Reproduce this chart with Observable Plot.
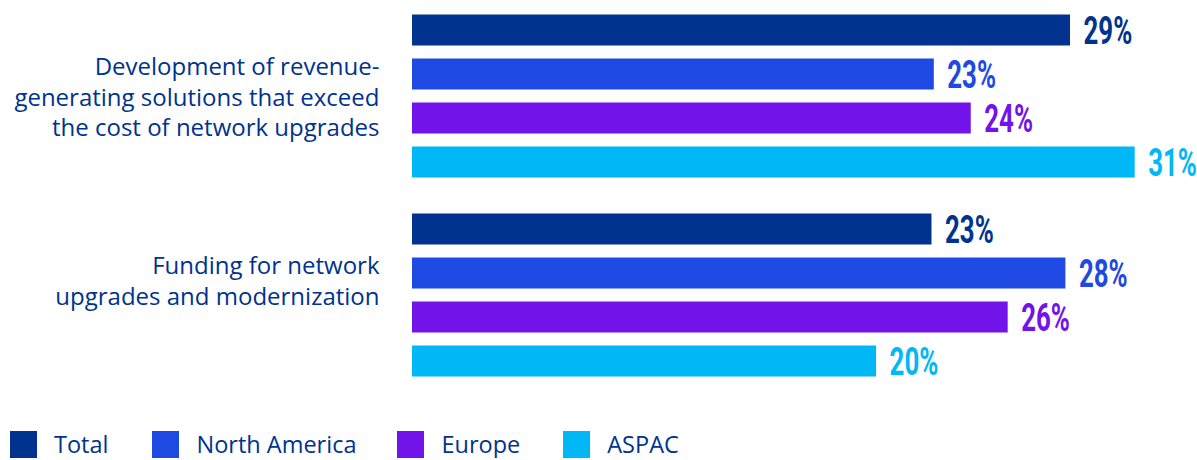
<!DOCTYPE html>
<html>
<head>
<meta charset="utf-8">
<script src="https://cdn.jsdelivr.net/npm/d3@7"></script>
<script src="https://cdn.jsdelivr.net/npm/@observablehq/plot@0.6"></script>
<style>
  body { margin: 0; background: #fff; font-family: "Open Sans", Roboto, sans-serif; overflow: hidden; }
  #chart svg { display: block; }
  .legend { display: flex; align-items: center; margin-top: 39px; padding-left: 10px; font-size: 23.5px; line-height: 27px; height: 27px; color: #00338D; }
  .legend .item { display: flex; align-items: center; }
  .legend .sw { width: 27px; height: 27px; margin-right: 17px; }
</style>
</head>
<body>
<div id="chart"></div>
<div class="legend" id="legend"></div>
<script>
const categories = [
  "Development of revenue-\ngenerating solutions that exceed\nthe cost of network upgrades",
  "Funding for network\nupgrades and modernization"
];
const regions = ["Total", "North America", "Europe", "ASPAC"];
const colors = ["#00338D", "#1E49E2", "#7213EA", "#00B8F5"];
// percentages, per region, for each category
const developmentValues = [28.5, 22.6, 24.2, 31.3];
const fundingValues = [22.5, 28.3, 25.8, 20.1];
const labelsDevelopment = ["29%", "23%", "24%", "31%"];
const labelsFunding = ["23%", "28%", "26%", "20%"];

const data = [];
regions.forEach((r, i) => data.push({cat: categories[0], region: r, value: developmentValues[i], label: labelsDevelopment[i]}));
regions.forEach((r, i) => data.push({cat: categories[1], region: r, value: fundingValues[i], label: labelsFunding[i]}));

const color = d3.scaleOrdinal(regions, colors);

const plot = Plot.plot({
  width: 1197,
  height: 392,
  marginTop: 6.5,
  marginBottom: 6,
  marginLeft: 412,
  marginRight: 0,
  x: {domain: [0, 34], axis: null},
  y: {domain: regions, axis: null, paddingInner: 0.29, paddingOuter: 0.145},
  fy: {domain: categories, axis: null, paddingInner: 0.1, paddingOuter: 0},
  color: {domain: regions, range: colors},
  marks: [
    Plot.barX(data, {fy: "cat", y: "region", x: "value", fill: "region"}),
    Plot.text(data, {
      fy: "cat", y: "region", x: "value", text: "label",
      fill: d => color(d.region),
      textAnchor: "start", dx: 13, dy: 1,
      fontSize: 38, fontWeight: "bold",
      fontFamily: "Roboto, sans-serif"
    }),
    Plot.text(categories, {
      fy: d => d, text: d => d,
      frameAnchor: "top-left", lineAnchor: "top", textAnchor: "end", dx: -33, dy: 46,
      fontSize: 24, lineHeight: 1.27, fill: "#00338D", fontWeight: "normal",
      fontFamily: "'Open Sans', Roboto, sans-serif"
    })
  ]
});

d3.select(plot).selectAll("g[font-weight='bold'] text").each(function() {
  const t = this.getAttribute("transform");
  if (t) {
    this.setAttribute("transform", t + " scale(0.68,1)");
  } else {
    const x = +this.getAttribute("x") || 0, y = +this.getAttribute("y") || 0;
    this.removeAttribute("x"); this.removeAttribute("y");
    this.setAttribute("transform", `translate(${x},${y}) scale(0.68,1)`);
  }
});

document.getElementById("chart").appendChild(plot);

const legend = d3.select("#legend");
const gaps = [44, 41, 43, 0];
regions.forEach((r, i) => {
  const item = legend.append("div").attr("class", "item").style("margin-right", gaps[i] + "px");
  item.append("div").attr("class", "sw").style("background", colors[i]);
  item.append("span").text(r);
});
</script>
</body>
</html>
